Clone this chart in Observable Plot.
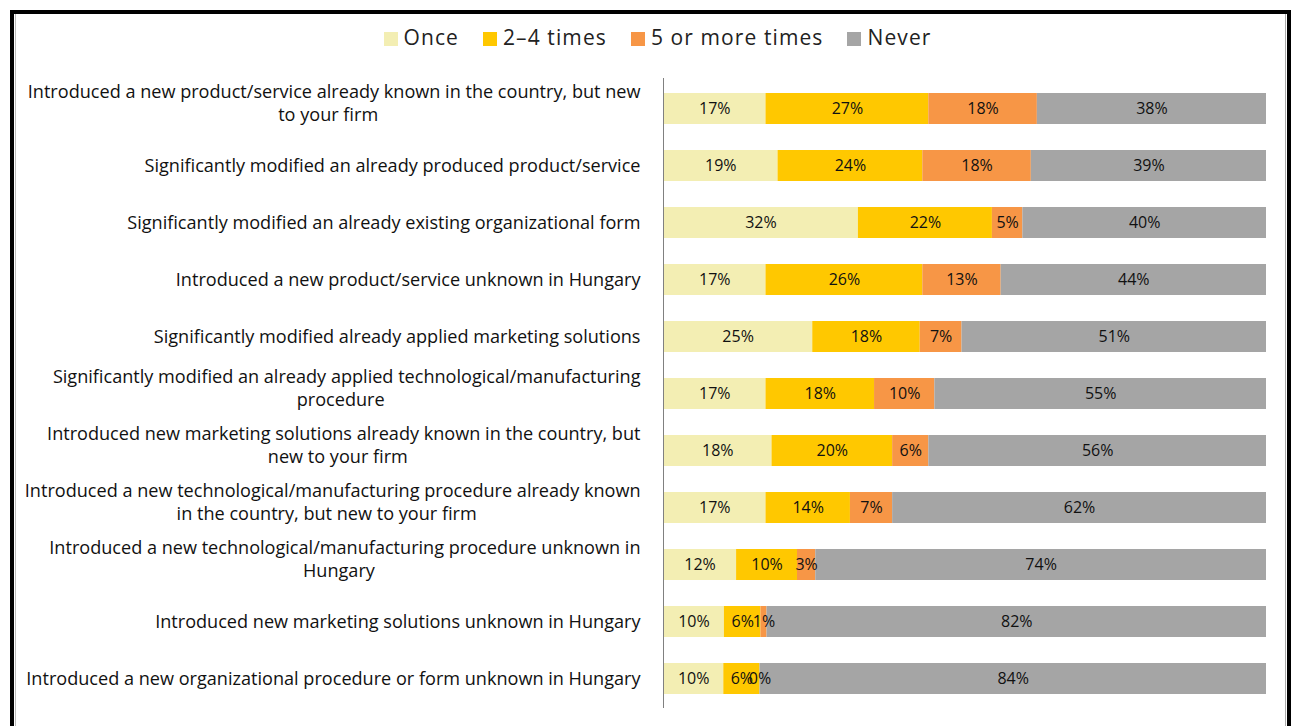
<!DOCTYPE html>
<html><head><meta charset="utf-8">
<script src="https://cdn.jsdelivr.net/npm/d3@7"></script>
<script src="https://cdn.jsdelivr.net/npm/@observablehq/plot@0.6"></script>
<style>
body{margin:0;background:#fff;width:1295px;height:726px;overflow:hidden;position:relative;font-family:'Open Sans',sans-serif}
#frame{position:absolute;left:10px;top:10px;width:1281px;height:800px;border:4px solid #000;box-sizing:border-box}
#inner{position:absolute;left:1px;right:1px;top:0;bottom:0;border-left:1px solid #bbb;border-right:1px solid #aaa}
#legend{position:absolute;top:22px;left:10px;width:1295px;display:flex;justify-content:center;gap:24px;font-size:21px;letter-spacing:1.1px;color:#222;line-height:30px}
.item{display:flex;align-items:center;gap:6px}
.sw{width:14px;height:14px;margin-top:4px}
#chart{position:absolute;left:0;top:60px}
</style></head><body>
<div id="frame"><div id="inner"></div></div>
<div id="legend"></div>
<div id="chart"></div>
<script>
const categories = [
  "Introduced a new product/service already known in the country, but new\nto your firm",
  "Significantly modified an already produced product/service",
  "Significantly modified an already existing organizational form",
  "Introduced a new product/service unknown in Hungary",
  "Significantly modified already applied marketing solutions",
  "Significantly modified an already applied technological/manufacturing\nprocedure",
  "Introduced new marketing solutions already known in the country, but\nnew to your firm",
  "Introduced a new technological/manufacturing procedure already known\nin the country, but new to your firm",
  "Introduced a new technological/manufacturing procedure unknown in\nHungary",
  "Introduced new marketing solutions unknown in Hungary",
  "Introduced a new organizational procedure or form unknown in Hungary"
];
const seriesNames = ["Once", "2\u20134 times", "5 or more times", "Never"];
const seriesColors = ["#f3eeb3", "#ffc800", "#f79646", "#a5a5a5"];
const once      = [17, 19, 32, 17, 25, 17, 18, 17, 12, 10, 10];
const twoToFour = [27, 24, 22, 26, 18, 18, 20, 14, 10, 6, 6];
const fivePlus  = [18, 18, 5, 13, 7, 10, 6, 7, 3, 1, 0];
const never     = [38, 39, 40, 44, 51, 55, 56, 62, 74, 82, 84];

const seriesValues = [once, twoToFour, fivePlus, never];
const rows = [];
categories.forEach((c, i) => {
  seriesNames.forEach((s, j) => rows.push({cat: c, series: s, value: seriesValues[j][i]}));
});

// legend
const legend = document.getElementById("legend");
seriesNames.forEach((s, j) => {
  const it = document.createElement("div"); it.className = "item";
  const sw = document.createElement("div"); sw.className = "sw"; sw.style.background = seriesColors[j];
  const t = document.createElement("span"); t.textContent = s;
  it.appendChild(sw); it.appendChild(t); legend.appendChild(it);
});

const labelFont = "'Open Sans', sans-serif";
const labelSize = 18.1;
const ctx = document.createElement("canvas").getContext("2d");
ctx.font = `${labelSize}px 'Open Sans'`;

const labelMarks = [];
categories.forEach(c => {
  const lines = c.split("\n");
  if (lines.length === 1) {
    labelMarks.push(Plot.text([c], {y: d => d, text: d => d, frameAnchor: "left", dx: -23, textAnchor: "end",
      fontSize: labelSize, fill: "#111"}));
  } else {
    const w1 = ctx.measureText(lines[0]).width;
    labelMarks.push(Plot.text([c], {y: d => d, text: () => lines[0], frameAnchor: "left", dx: -23, dy: -17,
      textAnchor: "end", fontSize: labelSize, fill: "#111"}));
    labelMarks.push(Plot.text([c], {y: d => d, text: () => lines[1], frameAnchor: "left", dx: -23 - w1 / 2 - 6, dy: 6,
      textAnchor: "middle", fontSize: labelSize, fill: "#111"}));
  }
});

const chart = Plot.plot({
  width: 1295,
  height: 666,
  marginLeft: 663,
  marginRight: 29,
  marginTop: 18,
  marginBottom: 18,
  style: {fontFamily: labelFont, background: "transparent"},
  x: {domain: [0, 1], axis: null},
  y: {domain: categories, axis: null, paddingInner: 0.46, paddingOuter: 0.23},
  color: {domain: seriesNames, range: seriesColors},
  marks: [
    Plot.barX(rows, Plot.stackX({offset: "normalize", order: seriesNames, x: "value", y: "cat", fill: "series"})),
    Plot.text(rows, Plot.stackX({offset: "normalize", order: seriesNames, x: "value", y: "cat", z: "series",
      text: d => d.value + "%", fontSize: 16, fill: "#111"})),
    Plot.ruleX([0], {stroke: "#808080"}),
    ...labelMarks
  ]
});
document.getElementById("chart").appendChild(chart);
</script>
</body></html>
